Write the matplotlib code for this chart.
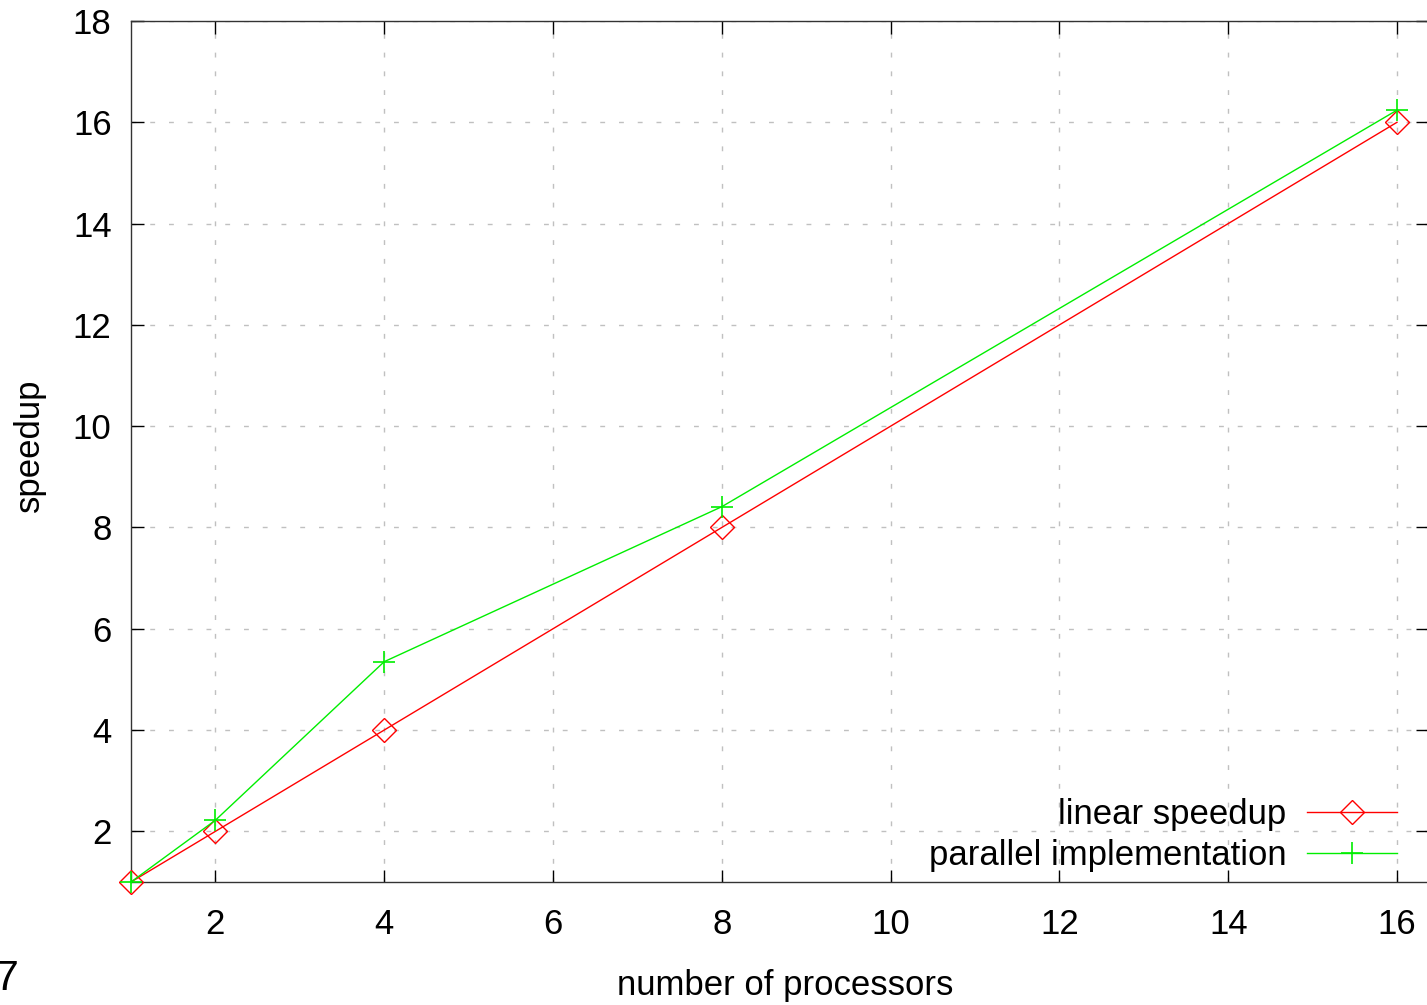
import matplotlib
matplotlib.use("Agg")
import matplotlib.pyplot as plt

processors = [1, 2, 4, 8, 16]
linear_speedup = [1, 2, 4, 8, 16]
parallel_speedup = [1.0, 2.22, 5.35, 8.41, 16.24]
xticks = [2, 4, 6, 8, 10, 12, 14, 16]
yticks = [2, 4, 6, 8, 10, 12, 14, 16, 18]

plt.rcParams['font.family'] = ['Liberation Sans', 'DejaVu Sans']
FS = 25

fig = plt.figure(figsize=(14.27, 10.05), dpi=100)
ax = fig.add_axes([131/1427, 123/1005, 1297/1427, 861/1005])

ax.plot(processors, linear_speedup, color='#ff0000', lw=1.0, marker='D', ms=12,
        mfc='none', mec='#ff0000', mew=1.0, label='linear speedup', clip_on=False, zorder=3)
ax.plot(processors, parallel_speedup, color='#00ee00', lw=1.0, marker='+', ms=16,
        mec='#00ee00', mew=1.2, label='parallel implementation', clip_on=False, zorder=3)

ax.set_xlim(1, 1 + (1428 - 131) / 84.4)
ax.set_ylim(1, 18)
ax.set_xticks(xticks)
ax.set_yticks(yticks)
ax.tick_params(direction='in', length=9, width=1, labelsize=FS, top=True, right=True)
ax.tick_params(axis='x', pad=19)
ax.tick_params(axis='y', pad=14)
ax.grid(True, color='#c0c0c0', linestyle=(0, (3.5, 10)), linewidth=1.0)
for s in ax.spines.values():
    s.set_linewidth(1.0)
    s.set_color('#333333')

ax.set_xlabel('number of processors', fontsize=FS)
ax.xaxis.label.set_va('center')
ax.xaxis.set_label_coords(0.5 + (785 - (131 + 1297 / 2)) / 1297, -(985 - 882) / 861)
ax.set_ylabel('speedup', fontsize=FS)
ax.yaxis.label.set_va('center')
ax.yaxis.set_label_coords(-(131 - 29) / 1297, (882 - 445) / 861)

ax.legend(loc='lower right', bbox_to_anchor=((1397 - 131) / 1297, 0.012),
          markerfirst=False, frameon=False, fontsize=FS, handlelength=2.6,
          handletextpad=0.58, labelspacing=0.21, borderaxespad=0.0, borderpad=0.0)

fig.text(-0.004, 15 / 1005, '7', fontsize=31, ha='left', va='baseline')

fig.savefig('out.png', dpi=100)
